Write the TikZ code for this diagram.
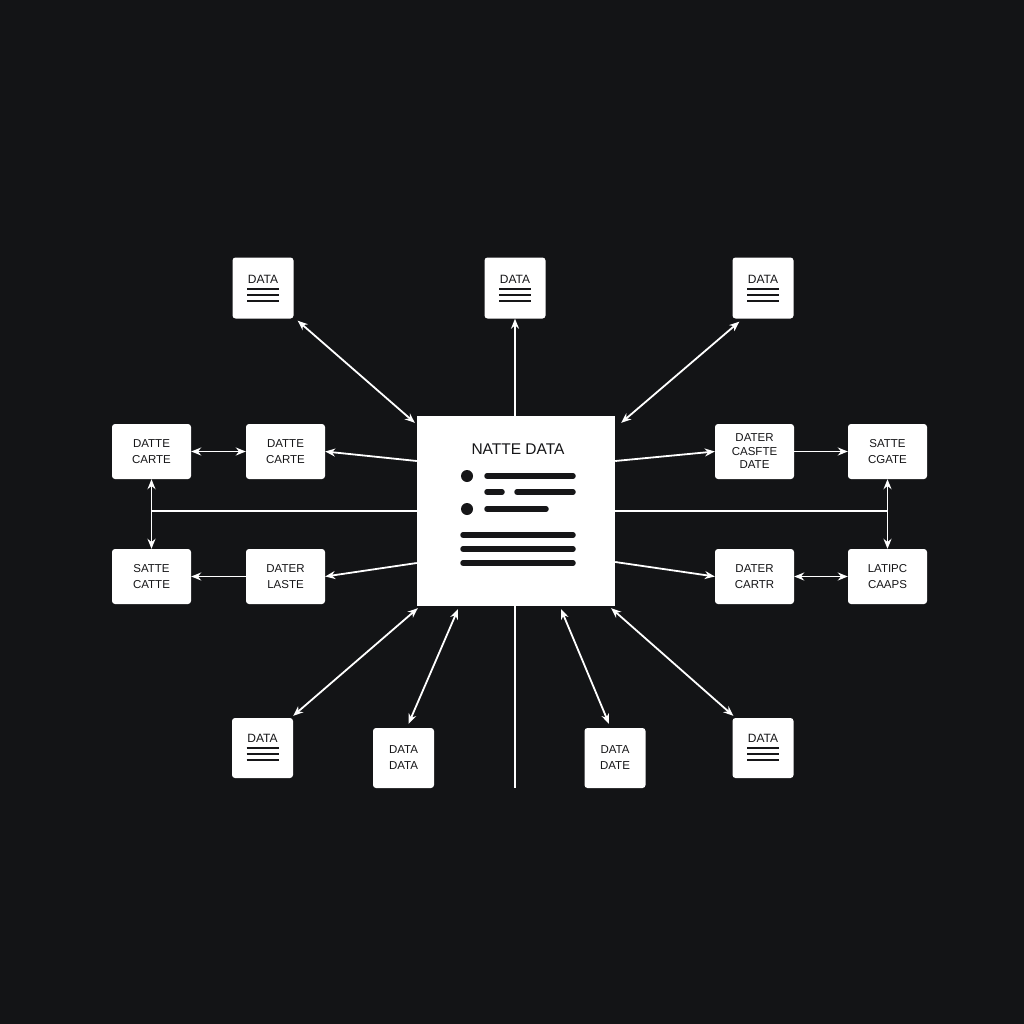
\documentclass[tikz,border=0pt]{standalone}
\usepackage{fontspec}
\setmainfont{Liberation Sans}
\usetikzlibrary{arrows.meta}
\definecolor{bg}{RGB}{19,20,22}
\definecolor{ink}{RGB}{22,22,24}
\tikzset{
  box/.style={fill=white, rounded corners=3pt, inner sep=0pt, align=center,
    minimum width=79pt, minimum height=55pt, text=ink,
    font=\fontsize{11.5}{16}\selectfont},
  dbox/.style={fill=white, rounded corners=3pt, inner sep=0pt, align=center,
    minimum width=61pt, minimum height=61pt, text=ink,
    font=\fontsize{11.5}{16}\selectfont},
  conn/.style={draw=white, line width=1.8pt},
  tip/.style={-{Stealth[length=10pt,width=8pt]}},
  dtip/.style={{Stealth[length=10pt,width=8pt]}-{Stealth[length=10pt,width=8pt]}},
  bar/.style={draw=ink, line width=5.5pt, line cap=round},
  dline/.style={draw=ink, line width=2.8pt},
}
\newcommand{\datalines}[2]{%
  \node[font=\fontsize{12}{14}\selectfont, text=ink] (#1-t) at ([yshift=#2]#1.center) {DATA};
  \draw[dline] ([xshift=-16pt,yshift=-10pt]#1-t.center) -- ([xshift=16pt,yshift=-10pt]#1-t.center);
  \draw[dline] ([xshift=-16pt,yshift=-16pt]#1-t.center) -- ([xshift=16pt,yshift=-16pt]#1-t.center);
  \draw[dline] ([xshift=-16pt,yshift=-22pt]#1-t.center) -- ([xshift=16pt,yshift=-22pt]#1-t.center);
}
\begin{document}
\begin{tikzpicture}[x=1pt,y=-1pt]
\fill[bg] (0,0) rectangle (1024,1024);
\useasboundingbox (0,0) rectangle (1024,1024);

% central box
\node[fill=white, minimum width=198pt, minimum height=190pt, inner sep=0pt] (c) at (516,511) {};
\node[font=\fontsize{15.5}{18}\selectfont, text=ink] (ct) at (518,449) {NATTE DATA};
\fill[ink] (467,476) circle (6);
\fill[ink] (467,509) circle (6);
\draw[bar] (487,476) -- (573,476);
\draw[bar] (487,492) -- (502,492);
\draw[bar] (517,492) -- (573,492);
\draw[bar] (487,509) -- (546,509);
\draw[bar] (463,535) -- (573,535);
\draw[bar] (463,549) -- (573,549);
\draw[bar] (463,563) -- (573,563);

% top DATA boxes
\node[dbox] (tl) at (263,288) {};
\node[dbox] (tc) at (515,288) {};
\node[dbox] (tr) at (763,288) {};
\datalines{tl}{9pt}
\datalines{tc}{9pt}
\datalines{tr}{9pt}

% bottom DATA boxes
\node[dbox, minimum height=60pt] (bl) at (262.5,748) {};
\node[dbox, minimum height=60pt] (br) at (763,748) {};
\datalines{bl}{10pt}
\datalines{br}{10pt}
\node[dbox, minimum height=60pt] (b2) at (403.5,758) {DATA\\DATA};
\node[dbox, minimum height=60pt] (b3) at (615,758) {DATA\\DATE};

% left boxes
\node[box] (L1) at (151.5,451.5) {DATTE\\CARTE};
\node[box] (L2) at (285.5,451.5) {DATTE\\CARTE};
\node[box] (L3) at (151.5,576.5) {SATTE\\CATTE};
\node[box] (L4) at (285.5,576.5) {DATER\\LASTE};

% right boxes
\node[box, font=\fontsize{11.5}{13.5}\selectfont] (R1) at (754.5,451.5) {DATER\\CASFTE\\DATE};
\node[box] (R2) at (887.5,451.5) {SATTE\\CGATE};
\node[box] (R3) at (754.5,576.5) {DATER\\CARTR};
\node[box] (R4) at (887.5,576.5) {LATIPC\\CAAPS};

\coordinate (vend) at (515,788);

% connectors top
\draw[conn, dtip] ([xshift=4pt,yshift=-2pt]tl.south east) -- ([xshift=-2pt,yshift=-7pt]c.north west);
\draw[conn, tip] (c.north -| tc.south) -- (tc.south);
\draw[conn, dtip] ([xshift=7pt,yshift=-3pt]tr.south west) -- ([xshift=6pt,yshift=-7pt]c.north east);

% connectors left
\draw[conn, tip] ([yshift=50pt]c.west) -- (L2.east);
\draw[conn, dtip] (L1) -- (L2);
\draw[conn] (c.west) -- (c.west -| L1.south);
\draw[conn, dtip] (L1) -- (L3);
\draw[conn, tip] ([yshift=-52pt]c.west) -- (L4.east);
\draw[conn, tip] (L4) -- (L3);

% connectors right
\draw[conn, tip] ([yshift=50pt]c.east) -- (R1.west);
\draw[conn, tip] (R1) -- (R2);
\draw[conn] (c.east) -- (c.east -| R2.south);
\draw[conn, dtip] (R2) -- (R4);
\draw[conn, tip] ([yshift=-51pt]c.east) -- (R3.west);
\draw[conn, dtip] (R3) -- (R4);

% connectors bottom
\draw[conn, dtip] ([xshift=1pt,yshift=-2pt]c.south west) -- ([yshift=2pt]bl.north east);
\draw[conn, dtip] ([xshift=-58pt,yshift=-3pt]c.south) -- ([xshift=5pt,yshift=4pt]b2.north);
\draw[conn, dtip] ([xshift=45pt,yshift=-3pt]c.south) -- ([xshift=-6pt,yshift=4pt]b3.north);
\draw[conn, dtip] ([xshift=-4pt,yshift=-2pt]c.south east) -- ([xshift=1pt,yshift=2pt]br.north west);
\draw[conn] (c.south -| vend) -- (vend);
\end{tikzpicture}
\end{document}
